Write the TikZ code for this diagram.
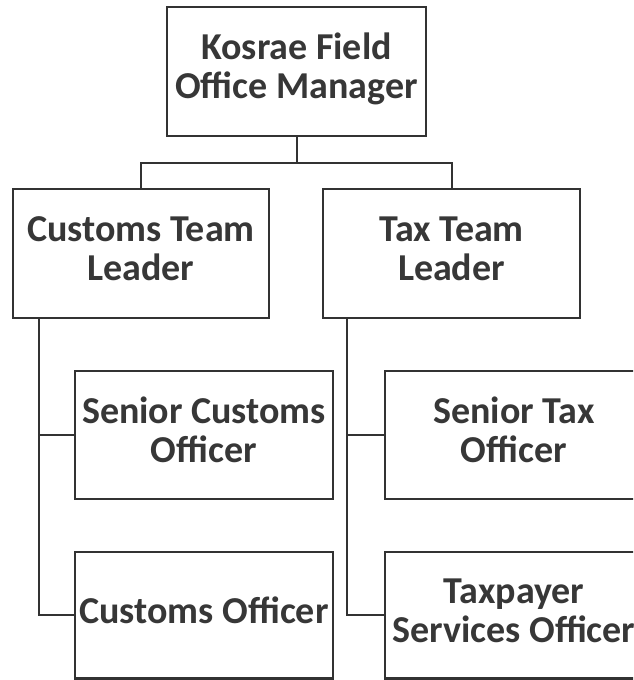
\documentclass[tikz,border=0pt]{standalone}
\usepackage{fontspec}
\setmainfont{Carlito}
\usetikzlibrary{calc}
\definecolor{ink}{RGB}{50,50,50}
\definecolor{txt}{RGB}{55,55,55}
\newcommand{\lbl}[1]{\makebox[0pt]{\begin{tabular}{@{}c@{}}#1\end{tabular}}}
\begin{document}
\begin{tikzpicture}[x=1pt,y=-1pt,
  box/.style={draw=ink, line width=2.8pt, rectangle, inner sep=0pt,
    font=\fontsize{38}{39}\selectfont\bfseries, text=txt},
  link/.style={draw=ink, line width=2pt}]
\useasboundingbox (0,0) rectangle (633,680);
\clip (0,0) rectangle (633,680);
\fill[white] (0,0) rectangle (633,680);
\node[box, minimum width=259pt, minimum height=129pt] (top) at (296.5,71.5) {\lbl{Kosrae Field\\Office Manager}};
\node[box, minimum width=256pt, minimum height=129pt] (ctl) at (141,253.5) {\lbl{Customs Team\\Leader}};
\node[box, minimum width=257pt, minimum height=129pt] (ttl) at (451.5,253.5) {\lbl{Tax Team\\Leader}};
\node[box, minimum width=258pt, minimum height=128pt] (sco) at (204,435) {\lbl{Senior Customs\\Officer}};
\node[box, minimum width=258pt, minimum height=128pt] (sto) at (514,435) {\lbl{Senior Tax\\Officer}};
\node[box, minimum width=258pt, minimum height=126.5pt] (co) at (204,615.25) {\lbl{Customs Officer}};
\node[box, minimum width=258pt, minimum height=126.5pt] (tso) at (514,615.25) {\lbl{Taxpayer\\Services Officer}};
\draw[link] (top.south) -- ++(0,26) -| (ctl.north);
\draw[link] (top.south) -- ++(0,26) -| (ttl.north);
\coordinate (cs) at ([xshift=27pt]ctl.south west);
\coordinate (ts) at ([xshift=25pt]ttl.south west);
\draw[link] (cs) |- (sco.west);
\draw[link] (cs) |- (co.west);
\draw[link] (ts) |- (sto.west);
\draw[link] (ts) |- (tso.west);
\end{tikzpicture}
\end{document}
